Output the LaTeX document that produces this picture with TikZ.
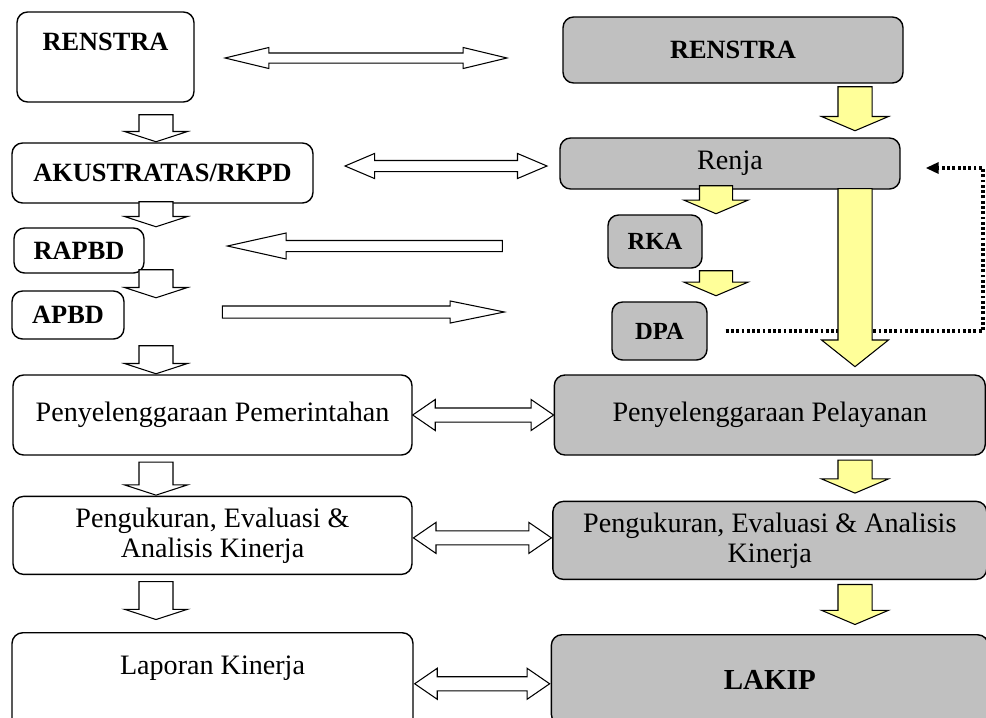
\documentclass[tikz,border=0pt]{standalone}
\usepackage{fontspec}
\setmainfont{Liberation Serif}
\usepackage{xcolor}
\usepackage{tikz}
\usetikzlibrary{shapes,arrows.meta,positioning,calc}

\definecolor{boxgrey}{RGB}{192,192,192}
\definecolor{lightyellow}{RGB}{255,255,153}

\begin{document}
\begin{tikzpicture}[x=0.02cm, y=-0.02cm,
    whitebox/.style={rectangle, draw, rounded corners=6pt, line width=0.8pt, fill=white, align=center, font=\fontsize{16}{17}\selectfont},
    greybox/.style={whitebox, fill=boxgrey},
    capsbox/.style={font=\bfseries\fontsize{15}{18}\selectfont},
    downarrow/.style={single arrow, draw, line width=0.6pt, fill=white, inner xsep=0pt, inner ysep=0.33cm, single arrow head extend=0.29cm, single arrow tip angle=144, rotate=-90, anchor=tip},
    yellowarrow/.style={downarrow, fill=lightyellow, single arrow head extend=0.33cm, single arrow tip angle=134},
    twoway/.style={double arrow, draw, line width=0.6pt, fill=white, inner xsep=0pt},
    oneway/.style={single arrow, draw, line width=0.6pt, fill=white, inner xsep=0pt, anchor=tip},
    feedback/.style={line width=1.8pt, dash pattern=on 1.6pt off 1.4pt, -{Triangle[length=0.26cm, width=0.22cm]}}]

    \useasboundingbox (0,0) rectangle (986,717);

    % left column
    \node[whitebox, capsbox, minimum width=3.54cm, minimum height=1.8cm, text depth=0.6cm] (renstraL) at (105.5,57) {RENSTRA};
    \node[whitebox, capsbox, minimum width=6.02cm, minimum height=1.2cm] (akustratas) at (162.5,173) {AKUSTRATAS/RKPD};
    \node[whitebox, capsbox, minimum width=2.6cm, minimum height=0.9cm] (rapbd) at (79,250.5) {RAPBD};
    \node[whitebox, capsbox, minimum width=2.24cm, minimum height=0.96cm] (apbd) at (68,315) {APBD};
    \node[whitebox, minimum width=7.98cm, minimum height=1.6cm] (pemerintahan) at (212.5,415) {Penyelenggaraan Pemerintahan};
    \node[whitebox, minimum width=7.98cm, minimum height=1.56cm, below=0.8cm of pemerintahan] (ukurL) {Pengukuran, Evaluasi \&\\Analisis Kinerja};
    \node[whitebox, minimum width=8.02cm, minimum height=2.2cm, text depth=0.9cm, below=1.14cm of ukurL] (laporan) {Laporan Kinerja};

    % right column
    \node[greybox, capsbox, minimum width=6.8cm, minimum height=1.32cm] (renstraR) at (733,50) {RENSTRA};
    \node[greybox, minimum width=6.8cm, minimum height=1.02cm] (renja) at (730,163.5) {Renja};
    \node[greybox, capsbox, font=\bfseries\fontsize{14}{17}\selectfont, minimum width=1.88cm, minimum height=1.06cm] (rka) at (655,241.5) {RKA};
    \node[greybox, capsbox, font=\bfseries\fontsize{14}{17}\selectfont, minimum width=1.9cm, minimum height=1.16cm] (dpa) at (659.5,331) {DPA};
    \node[greybox, minimum width=8.62cm, minimum height=1.6cm, right=2.82cm of pemerintahan] (pelayanan) {Penyelenggaraan Pelayanan};
    \node[greybox, minimum width=8.68cm, minimum height=1.56cm, below=0.9cm of pelayanan] (ukurR) {Pengukuran, Evaluasi \& Analisis\\Kinerja};
    \node[greybox, capsbox, font=\bfseries\fontsize{16.5}{19}\selectfont, minimum width=8.74cm, minimum height=1.8cm, below=1.08cm of ukurR] (lakip) {LAKIP};

    % feedback from DPA back to Renja
    \coordinate (corner) at (983,331);
    \draw[feedback, shorten <=0.36cm, shorten >=0.5cm] (dpa.east) -- (corner) |- ([yshift=-0.09cm]renja.east);

    % downward arrows
    \coordinate (leftlane) at (156,0);
    \coordinate (midlane) at (716,0);
    \coordinate (rightlane) at (855,0);
    \node[downarrow, minimum height=0.54cm] (down1) at (leftlane |- akustratas.north) {};
    \node[downarrow, minimum height=0.5cm] (down2) at (leftlane |- rapbd.north) {};
    \node[downarrow, minimum height=0.56cm] (down3) at ($(leftlane |- apbd.north)+(0,8)$) {};
    \node[downarrow, minimum height=0.56cm] (down4) at (leftlane |- pemerintahan.north) {};
    \node[downarrow, minimum height=0.66cm] (down5) at (leftlane |- ukurL.north) {};
    \node[downarrow, minimum height=0.76cm] (down6) at ($(leftlane |- laporan.north)+(0,-12)$) {};

    \node[yellowarrow, minimum height=0.88cm] (toRenja) at ($(rightlane |- renja.north)+(0,-6)$) {};
    \node[yellowarrow, minimum height=0.56cm, inner ysep=0.32cm, single arrow head extend=0.31cm] (toRka) at (midlane |- rka.north) {};
    \node[yellowarrow, minimum height=0.5cm, inner ysep=0.32cm, single arrow head extend=0.31cm] (toDpa) at ($(midlane |- dpa.north)+(0,-5)$) {};
    \node[yellowarrow, minimum height=3.56cm, single arrow tip angle=103] (toPelayanan) at ($(rightlane |- pelayanan.north)+(0,-7)$) {};
    \node[yellowarrow, minimum height=0.66cm] (toUkurR) at ($(rightlane |- ukurR.north)+(0,-7)$) {};
    \node[yellowarrow, minimum height=0.8cm] (toLakip) at ($(rightlane |- lakip.north)+(0,-9)$) {};

    % arrows between the two columns
    \node[twoway, minimum height=5.64cm, inner ysep=0.09cm, double arrow head extend=0.11cm, double arrow tip angle=27] (link1) at (366,58) {};
    \node[twoway, minimum height=4.04cm, inner ysep=0.1cm, double arrow head extend=0.14cm, double arrow tip angle=46] (link2) at (446,166) {};
    \node[oneway, rotate=180, minimum height=5.5cm, inner ysep=0.1cm, single arrow head extend=0.15cm, single arrow tip angle=25] (link3) at (225,246) {};
    \node[oneway, minimum height=5.64cm, inner ysep=0.11cm, single arrow head extend=0.1cm, single arrow tip angle=23] (link4) at (507,312) {};
    \node[twoway, minimum height=2.82cm, inner ysep=0.13cm, double arrow head extend=0.17cm, double arrow tip angle=69] (link5) at ($(pemerintahan.east)!0.5!(pelayanan.west)$) {};
    \node[twoway, minimum height=2.76cm, inner ysep=0.13cm, double arrow head extend=0.17cm, double arrow tip angle=69] (link6) at ($(ukurL.east)!0.5!(ukurR.west)$) {};
    \node[twoway, minimum height=2.7cm, inner ysep=0.13cm, double arrow head extend=0.17cm, double arrow tip angle=69] (link7) at ($(laporan.east)!0.5!(lakip.west)$) {};

\end{tikzpicture}
\end{document}
